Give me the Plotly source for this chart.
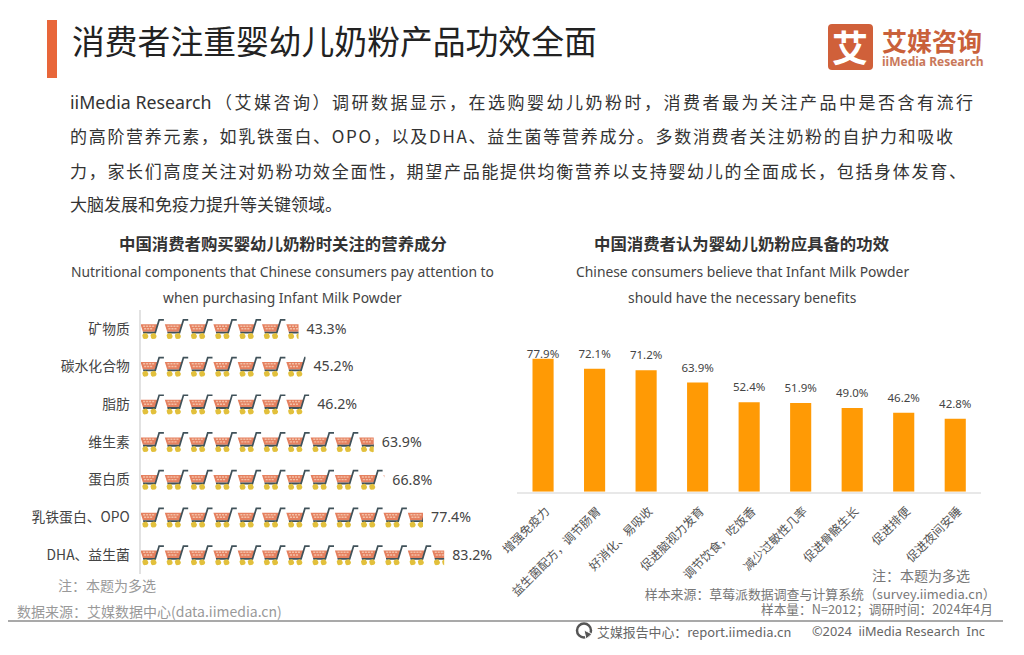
import math

import numpy as np
import plotly.graph_objects as go

# left chart
nutrients = ['矿物质', '碳水化合物', '脂肪', '维生素', '蛋白质', '乳铁蛋白、OPO', 'DHA、益生菌']
nutrient_values = [43.3, 45.2, 46.2, 63.9, 66.8, 77.4, 83.2]

# right chart
benefits = ['增强免疫力', '益生菌配方，调节肠胃', '好消化、易吸收', '促进脑视力发育', '调节饮食，吃饭香',
            '减少过敏性几率', '促进骨骼生长', '促进排便', '促进夜间安睡']
benefit_values = [77.9, 72.1, 71.2, 63.9, 52.4, 51.9, 49.0, 46.2, 42.8]

body_lines = [
    '（艾媒咨询）调研数据显示，在选购婴幼儿奶粉时，消费者最为关注产品中是否含有流行',
    '的高阶营养元素，如乳铁蛋白、OPO，以及DHA、益生菌等营养成分。多数消费者关注奶粉的自护力和吸收',
    '力，家长们高度关注对奶粉功效全面性，期望产品能提供均衡营养以支持婴幼儿的全面成长，包括身体发育、',
    '大脑发展和免疫力提升等关键领域。',
]

W, H = 1024, 655
FONT = 'Noto Sans, Noto Sans CJK SC, sans-serif'
CJK = 'Noto Sans CJK SC, sans-serif'

# left axis scale, one cart every 24.3px
PX_PER_PCT = 3.65
PX_PER_ROW = 37.7
CART_PITCH = 24.3 / PX_PER_PCT


def px(x):
    return x / W


def py(y):
    return 1 - y / H


def clip_right(points, limit):
    # keep the part of a polygon left of the limit
    out = []
    for i in range(len(points)):
        x0, y0 = points[i - 1]
        x1, y1 = points[i]
        if (x0 <= limit) != (x1 <= limit):
            t = (limit - x0) / (x1 - x0)
            out.append((limit, y0 + t * (y1 - y0)))
        if x1 <= limit:
            out.append((x1, y1))
    return out


def circle(cx, cy, r):
    return [(cx + r * math.cos(a), cy + r * math.sin(a)) for a in np.linspace(0, 2 * math.pi, 14)[:-1]]


# cart parts in px from the left of its cell, y up from the row centre
basket = [[(0, 4.4), (17.2, 4.4), (14.6, -3), (2.4, -3)]]
basket_holes = [[(x, 3.3), (x + 2.1, 3.3), (x + 2.1, 1.8), (x, 1.8)] for x in (2.6, 5.6, 8.6, 11.6)] + \
               [[(x, 0.6), (x + 2.1, 0.6), (x + 2.1, -0.8), (x, -0.8)] for x in (3.6, 6.6, 9.6)]
tray = [[(2.4, -3), (15.2, -3), (14.6, -4.9), (2.8, -4.9)]]
handle = [[(13.6, -4.9), (15.4, -4.9), (19.3, 8), (23.4, 8), (23.4, 9.7), (18, 9.7)]]
wheels = [circle(4.8, -7.4, 3.1), circle(13, -7.4, 3.1)]


def cart_trace(parts, color):
    xs, ys = [], []
    for row, value in enumerate(nutrient_values):
        for k in range(math.ceil(value / CART_PITCH)):
            for part in parts:
                shifted = [(k * CART_PITCH + x / PX_PER_PCT, row - y / PX_PER_ROW) for x, y in part]
                clipped = clip_right(shifted, value)
                if clipped:
                    xs += [p[0] for p in clipped] + [clipped[0][0], None]
                    ys += [p[1] for p in clipped] + [clipped[0][1], None]
    return go.Scatter(x=xs, y=ys, mode='lines', fill='toself', fillcolor=color, line=dict(width=0),
                      hoverinfo='skip', showlegend=False, xaxis='x', yaxis='y')


fig = go.Figure()
fig.add_trace(cart_trace(basket, '#E5805F'))
fig.add_trace(cart_trace(basket_holes, '#F3BFA6'))
fig.add_trace(cart_trace(tray, '#40525A'))
fig.add_trace(cart_trace(handle, '#40525A'))
fig.add_trace(cart_trace(wheels, '#E2C03C'))

fig.add_trace(go.Scatter(x=[v + 2.2 for v in nutrient_values], y=[i + 0.04 for i in range(len(nutrients))],
                         mode='text', text=['%.1f%%' % v for v in nutrient_values], textposition='middle right',
                         textfont=dict(family=FONT, size=14.2, color='#444444'),
                         cliponaxis=False, hoverinfo='skip', showlegend=False, xaxis='x', yaxis='y'))

fig.add_trace(go.Bar(x=benefits, y=benefit_values, marker=dict(color='#FF9A05', line=dict(width=0)),
                     hoverinfo='skip', showlegend=False, xaxis='x2', yaxis='y2'))

# the first label sits right on its bar, the rest float a bit higher
lifts = [-1.3] + [4.8] * (len(benefits) - 1)
fig.add_trace(go.Scatter(x=benefits, y=[v + d for v, d in zip(benefit_values, lifts)], mode='text',
                         text=['%.1f%%' % v for v in benefit_values], textposition='top center',
                         textfont=dict(family=FONT, size=11.5, color='#444444'), cliponaxis=False,
                         hoverinfo='skip', showlegend=False, xaxis='x2', yaxis='y2'))

fig.update_layout(
    width=W, height=H, margin=dict(l=0, r=0, t=0, b=0, autoexpand=False), paper_bgcolor='white',
    plot_bgcolor='white', bargap=0.59,
    xaxis=dict(domain=[px(140.5), px(510)], range=[0, (510 - 140.5) / PX_PER_PCT], visible=False, automargin=False),
    yaxis=dict(domain=[py(573.75), py(309.85)], range=[6.5, -0.5], tickvals=list(range(len(nutrients))),
               ticktext=nutrients, showgrid=False, zeroline=False, ticks='', showline=True, automargin=False,
               linecolor='#E2E2E2', linewidth=2, ticklabelstandoff=6,
               tickfont=dict(family=CJK, size=13.8, color='#444444')),
    xaxis2=dict(domain=[px(517.3), px(981)], anchor='y2', tickangle=-45, showgrid=False, ticks='', automargin=False,
                showline=True, linecolor='#E8E8E8', linewidth=1.5, ticklabelstandoff=6, ticklabelshift=3,
                tickfont=dict(family=CJK, size=12, color='#555555')),
    yaxis2=dict(domain=[py(491.7), py(340)], range=[0, (491.7 - 340) / 1.707], anchor='x2', visible=False,
                automargin=False),
)


def label(x, y, text, size=13, color='#444444', anchor='left', family=CJK):
    fig.add_annotation(x=px(x), y=py(y), xref='paper', yref='paper', text=text, showarrow=False,
                       xanchor=anchor, yanchor='middle', align=anchor,
                       font=dict(family=family, size=size, color=color))


label(70, 40, '消费者注重婴幼儿奶粉产品功效全面', size=32.8, color='#222222')
label(67.5, 102, 'iiMedia Research', size=17.8, color='#333333', family=FONT)
label(213, 102, body_lines[0], size=17, color='#333333')
for line, y in zip(body_lines[1:], [136, 170, 203]):
    label(67.5, y, line, size=17, color='#333333')

label(283, 243.5, '<b>中国消费者购买婴幼儿奶粉时关注的营养成分</b>', size=16.4, color='#333333', anchor='center')
label(282, 272, 'Nutritional components that Chinese consumers pay attention to', size=13.85, color='#444444',
      anchor='center', family=FONT)
label(282, 297, 'when purchasing Infant Milk Powder', size=13.85, color='#444444', anchor='center', family=FONT)
label(742, 243.5, '<b>中国消费者认为婴幼儿奶粉应具备的功效</b>', size=16.4, color='#333333', anchor='center')
label(742, 272, 'Chinese consumers believe that Infant Milk Powder', size=13.85, color='#444444',
      anchor='center', family=FONT)
label(742, 297, 'should have the necessary benefits', size=13.85, color='#444444', anchor='center', family=FONT)

label(55.5, 585, '注：本题为多选', size=14, color='#999999')
label(14.5, 611, '数据来源：艾媒数据中心(data.iimedia.cn)', size=14, color='#999999')
label(972, 575, '注：本题为多选', size=14, color='#777777', anchor='right')
label(998, 593, '样本来源：草莓派数据调查与计算系统（survey.iimedia.cn）', size=12.9, color='#777777', anchor='right')
label(995, 608.5, '样本量：N=2012；调研时间：2024年4月', size=12.7, color='#777777', anchor='right')
label(595, 631, '艾媒报告中心：report.iimedia.cn', size=12.9, color='#666666')
label(810, 631, '©2024  iiMedia Research  Inc', size=12.75, color='#666666', family=FONT)

# logo
label(850, 46, '<b>艾</b>', size=36, color='white', anchor='center')
label(880, 40, '<b>艾媒咨询</b>', size=25, color='#C9603A')
label(880, 62, '<b>iiMedia Research</b>', size=12, color='#C9785A', family=FONT)

fig.add_shape(type='rect', xref='paper', yref='paper', x0=px(47), x1=px(57), y0=py(78), y1=py(20),
              fillcolor='#E8663A', line=dict(width=0))
# rounded logo square
fig.add_shape(type='path', xref='paper', yref='paper', layer='below', fillcolor='#D0603A', line=dict(width=0),
              path='M %f %f L %f %f Q %f %f %f %f L %f %f Q %f %f %f %f L %f %f Q %f %f %f %f L %f %f Q %f %f %f %f Z' % (
                  px(832), py(24), px(869), py(24), px(873), py(24), px(873), py(28),
                  px(873), py(66), px(873), py(70), px(869), py(70),
                  px(832), py(70), px(828), py(70), px(828), py(66),
                  px(828), py(28), px(828), py(24), px(832), py(24)))
fig.add_shape(type='line', xref='paper', yref='paper', x0=px(8), x1=px(1003), y0=py(621), y1=py(621),
              line=dict(color='#8C8C8C', width=1.5))
# report centre icon
fig.add_shape(type='circle', xref='paper', yref='paper', x0=px(577), x1=px(591), y0=py(637.5), y1=py(623.5),
              line=dict(color='#555555', width=2.5))
fig.add_shape(type='path', xref='paper', yref='paper', fillcolor='#555555', line=dict(color='white', width=1),
              path='M %f %f L %f %f L %f %f Z' % (px(584), py(630), px(592), py(634), px(586), py(639)))

# lines of the paragraph are justified in the original
spacing = "var s=[2.5,1.7,1.7,0];var n=0;document.querySelectorAll('.annotation-text').forEach(function(t){" \
          "if(t.textContent.length>15&&t.style.fontSize=='17px'){t.style.letterSpacing=s[n]+'px';n++;}});"
fig.write_html('out.html', config={'displayModeBar': False},
               post_script="document.body.style.margin='0';" + spacing)
